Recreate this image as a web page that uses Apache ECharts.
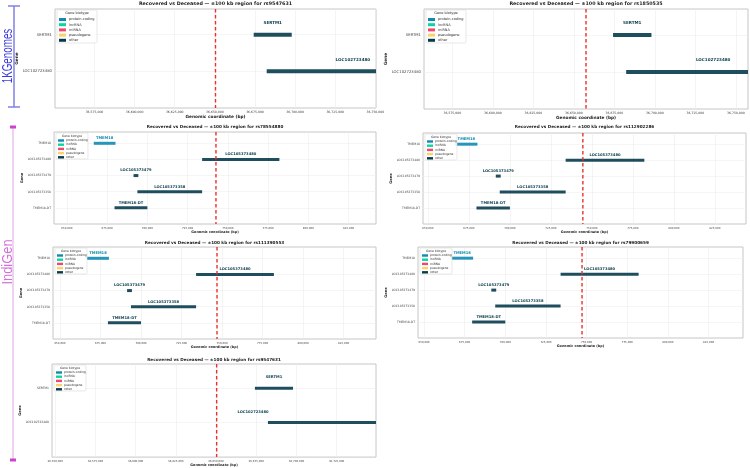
<!DOCTYPE html>
<html>
<head>
<meta charset="utf-8">
<script src="https://cdn.jsdelivr.net/npm/echarts@6/dist/echarts.min.js"></script>
<style>
html, body { margin: 0; padding: 0; background: #fff; }
#chart { width: 750px; height: 468px; }
</style>
</head>
<body>
<div id="chart"></div>
<script>
// gene models, chr13 window (SERTM1)
var sertGenes = ['SERTM1', 'LOC102723480'];
var sertStart = [36674200, 36682300];
var sertEnd = [36697900, 36789700];
var sertType = [4, 4];

// gene models, chr2 window (TMEM18)
var tmemGenes = ['TMEM18', 'LOC105373480', 'LOC105373479', 'LOC105373358', 'TMEM18-DT'];
var tmemStart = [666700, 734000, 691400, 693800, 679600];
var tmemEnd = [680200, 782000, 694400, 734000, 700000];
var tmemType = [0, 4, 4, 4, 4];

var biotypes = ['protein-coding', 'lncRNA', 'miRNA', 'pseudogene', 'other'];
var biotypeColors = ['#118ab2', '#06d6a0', '#ef476f', '#ffd166', '#073b4c'];

// one entry per panel
var snpIds = ['rs9547631', 'rs1850535', 'rs78554880', 'rs112902286', 'rs111390553', 'rs79900659', 'rs9547631'];
var snpPos = [36650400, 36657500, 742600, 744500, 746900, 747200, 36650400];
var xMins = [36550400, 36557500, 642000, 647000, 645700, 646300, 36548000];
var xMaxs = [36750400, 36757500, 842000, 844000, 845000, 846200, 36749500];
var panelRegion = ['sert', 'sert', 'tmem', 'tmem', 'tmem', 'tmem', 'sert'];
// where the LOC102723480 label sits in the last panel (not centred there)
var labelAt = [null, null, null, null, null, null, [null, 36673000]];

var tickStep = 25000;

var grids = [
    { left: 55, top: 9, width: 321, height: 99 },
    { left: 424, top: 9, width: 324, height: 100 },
    { left: 54, top: 132, width: 322, height: 92 },
    { left: 423, top: 133, width: 323, height: 91 },
    { left: 53, top: 247, width: 323, height: 92 },
    { left: 418, top: 247, width: 325, height: 91 },
    { left: 52, top: 364, width: 324, height: 94 }
];
var big = [true, true, false, false, false, false, false];
var titleTops = [1.5, 1.5, 124.5, 124.5, 240.5, 240.5, 357.5];
var yNameGap = [32, 36, 27, 27, 26, 24, 27];
var xNameGap = [6, 6, 5, 5, 6, 5, 4];

var FONT = 'DejaVu Sans';
var SNP_RED = '#e8322c';

var fmt = function (v) {
    return Math.round(v).toLocaleString('en-US');
};

var chart = echarts.init(document.getElementById('chart'));

var option = {
    animation: false,
    backgroundColor: '#fff',
    title: [],
    grid: [],
    xAxis: [],
    yAxis: [],
    series: [],
    graphic: []
};

function legendBox(g, isBig) {
    var w = isBig ? 40 : 32;
    var step = isBig ? 5.2 : 4.2;
    var fs = isBig ? 3.5 : 3;
    var x0 = g.left + 2;
    var y0 = g.top + 1;
    var h = isBig ? 33 : 26;
    var items = [];
    items.push({
        type: 'rect', z: 50,
        shape: { x: x0, y: y0, width: w, height: h, r: 1.5 },
        style: { fill: 'rgba(255,255,255,0.85)', stroke: '#d9d9d9', lineWidth: 0.6 }
    });
    items.push({
        type: 'text', z: 51,
        style: { x: x0 + w / 2, y: y0 + (isBig ? 3.5 : 3), text: 'Gene biotype', fill: '#333',
            font: fs + 'px ' + FONT, align: 'center', verticalAlign: 'middle' }
    });
    biotypes.forEach(function (name, k) {
        var yy = y0 + (isBig ? 9.5 : 7.5) + k * step;
        items.push({
            type: 'rect', z: 51,
            shape: { x: x0 + 2, y: yy - (isBig ? 1.5 : 1.2), width: isBig ? 7 : 6, height: isBig ? 3 : 2.4 },
            style: { fill: biotypeColors[k] }
        });
        items.push({
            type: 'text', z: 51,
            style: { x: x0 + (isBig ? 12 : 10), y: yy, text: name, fill: '#333',
                font: fs + 'px ' + FONT, align: 'left', verticalAlign: 'middle' }
        });
    });
    return items;
}

function renderSnp(params, api) {
    var top = api.coord([api.value(0), api.value(1)]);
    var bottom = api.coord([api.value(0), api.value(2)]);
    return {
        type: 'line', z2: 100,
        shape: { x1: top[0], y1: top[1], x2: bottom[0], y2: bottom[1] },
        style: { stroke: SNP_RED, lineWidth: 1.4, lineDash: [3.5, 2.5] }
    };
}

for (var p = 0; p < 7; p++) {
    var g = grids[p];
    var isBig = big[p];
    var genes = panelRegion[p] === 'sert' ? sertGenes : tmemGenes;
    var starts = panelRegion[p] === 'sert' ? sertStart : tmemStart;
    var ends = panelRegion[p] === 'sert' ? sertEnd : tmemEnd;
    var types = panelRegion[p] === 'sert' ? sertType : tmemType;
    var n = genes.length;

    var ticks = [];
    for (var t = Math.ceil(xMins[p] / tickStep) * tickStep; t <= xMaxs[p]; t += tickStep) ticks.push(t);
    var rows = genes.map(function (d, i) { return i; });

    option.grid.push({
        left: g.left, top: g.top, width: g.width, height: g.height,
        show: true, borderColor: '#c6c6c6', borderWidth: 1, backgroundColor: '#fff'
    });

    option.title.push({
        text: 'Recovered vs Deceased \u2014 \u00b1100 kb region for ' + snpIds[p],
        left: g.left + g.width / 2, top: titleTops[p], textAlign: 'center', padding: 0,
        textStyle: { fontSize: isBig ? 4.8 : 4.2, fontWeight: 'bold', color: '#222', fontFamily: FONT }
    });

    option.xAxis.push({
        type: 'value', gridIndex: p, min: xMins[p], max: xMaxs[p],
        name: 'Genomic coordinate (bp)', nameLocation: 'middle', nameGap: xNameGap[p],
        nameTextStyle: { fontSize: isBig ? 4.3 : 3.4, fontWeight: 'bold', color: '#222', fontFamily: FONT },
        axisLine: { show: false },
        axisTick: { show: false, customValues: ticks },
        axisLabel: { customValues: ticks, formatter: fmt, fontSize: isBig ? 3.1 : 2.7, color: '#444',
            margin: 3, fontFamily: FONT },
        splitLine: { show: true, lineStyle: { color: '#ececec', width: 0.6 } }
    });

    option.yAxis.push({
        type: 'value', gridIndex: p, min: -0.7, max: n, inverse: true,
        name: 'Gene', nameLocation: 'middle', nameGap: yNameGap[p],
        nameTextStyle: { fontSize: isBig ? 4.3 : 3.6, fontWeight: 'bold', color: '#222', fontFamily: FONT },
        axisLine: { show: false, onZero: false },
        axisTick: { show: false, customValues: rows },
        axisLabel: {
            customValues: rows, fontSize: isBig ? 3.8 : 3, color: '#444', margin: 3, fontFamily: FONT,
            formatter: (function (names) { return function (v) { return names[Math.round(v)] || ''; }; })(genes)
        },
        splitLine: { show: true, lineStyle: { color: '#efefef', width: 0.6 } }
    });

    var data = [];
    for (var i = 0; i < n; i++) {
        var lx = (labelAt[p] && labelAt[p][i]) ? labelAt[p][i] : (starts[i] + ends[i]) / 2;
        data.push([i, starts[i], ends[i], lx, types[i]]);
    }

    option.series.push({
        type: 'custom', xAxisIndex: p, yAxisIndex: p, z: 3,
        encode: { x: [1, 2, 3], y: 0 },
        data: data,
        renderItem: (function (names, lo, hi, isBig) {
            return function (params, api) {
                var row = api.value(0);
                var a = api.coord([Math.max(api.value(1), lo), row]);
                var b = api.coord([Math.min(api.value(2), hi), row]);
                var lab = api.coord([api.value(3), row - 0.32]);
                var col = biotypeColors[api.value(4)];
                var h = isBig ? 4 : 3;
                return {
                    type: 'group',
                    children: [{
                        type: 'rect',
                        shape: { x: a[0], y: a[1] - h / 2, width: b[0] - a[0], height: h },
                        style: { fill: col, opacity: 0.9 }
                    }, {
                        type: 'text',
                        style: { x: lab[0], y: lab[1], text: names[row], fill: col,
                            font: 'bold ' + (isBig ? 4.1 : 3.7) + 'px ' + FONT,
                            align: 'center', verticalAlign: 'middle' }
                    }]
                };
            };
        })(genes, xMins[p], xMaxs[p], isBig)
    });

    // SNP position, dashed red
    option.series.push({
        type: 'custom', xAxisIndex: p, yAxisIndex: p, z: 10, silent: true,
        encode: { x: 0, y: [1, 2] },
        data: [[snpPos[p], -0.7, n]],
        renderItem: renderSnp
    });

    option.graphic = option.graphic.concat(legendBox(g, isBig));
}

// cohort brackets on the left
option.graphic.push(
    { type: 'line', shape: { x1: 14, y1: 6, x2: 14, y2: 107 }, style: { stroke: '#8080e6', lineWidth: 1.5 } },
    { type: 'line', shape: { x1: 8, y1: 6, x2: 20, y2: 6 }, style: { stroke: '#8080e6', lineWidth: 1.5 } },
    { type: 'line', shape: { x1: 8, y1: 107, x2: 20, y2: 107 }, style: { stroke: '#8080e6', lineWidth: 1.5 } },
    {
        type: 'text', x: 8, y: 56, rotation: Math.PI / 2, scaleX: 0.7,
        style: { text: '1KGenomes', fill: '#3c3cdc', font: '14px "Liberation Sans"', align: 'center', verticalAlign: 'middle' }
    },
    { type: 'line', shape: { x1: 13, y1: 127, x2: 13, y2: 460 }, style: { stroke: '#dba6e3', lineWidth: 1 } },
    { type: 'rect', shape: { x: 10, y: 125.5, width: 6, height: 3 }, style: { fill: '#cc44cc' } },
    { type: 'rect', shape: { x: 10, y: 458.5, width: 6, height: 3 }, style: { fill: '#cc44cc' } },
    {
        type: 'text', x: 8, y: 262, rotation: Math.PI / 2, scaleX: 0.92,
        style: { text: 'IndiGen', fill: '#d46fd9', font: '14px "Liberation Sans"', align: 'center', verticalAlign: 'middle' }
    }
);

chart.setOption(option);
</script>
</body>
</html>
